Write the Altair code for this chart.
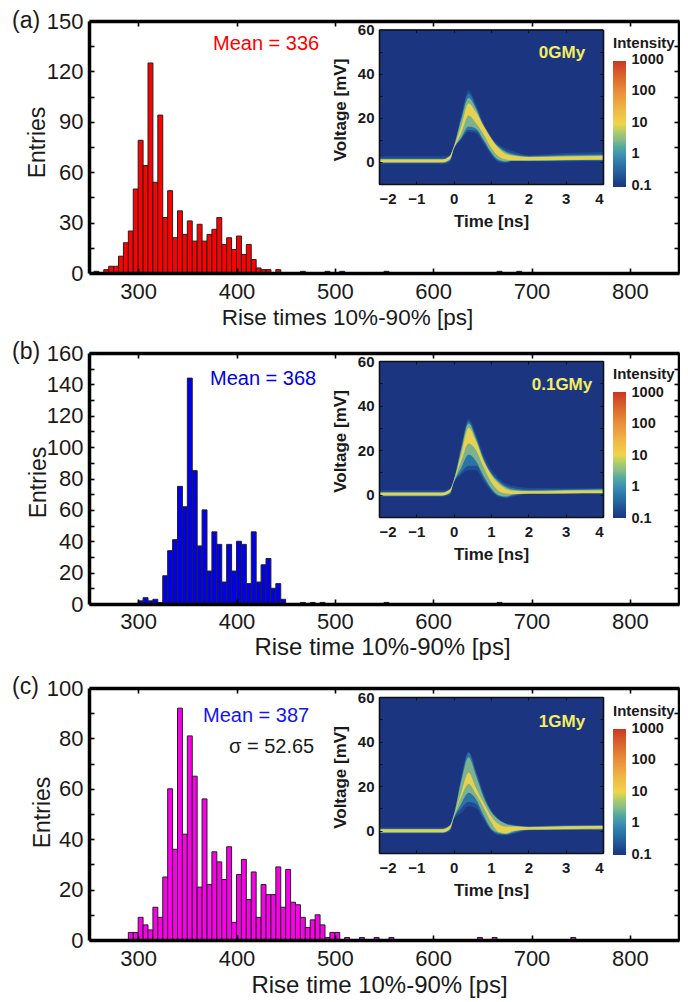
import altair as alt
import pandas as pd

FONT = "Liberation Sans"
INK = "#1a1a1a"

# ---------- histogram data ----------
a_start = 255
a_counts = [1,0,2,4,4,10,18,25,50,79,64,125,54,94,33,49,21,37,23,31,19,29,19,23,26,33,17,21,14,22,11,17,8,3,2,2,0,2]
a_sparse = [465,490,505,550,665,685]
b_start = 300
b_counts = [2,4,2,3,1,18,34,41,75,62,144,85,37,60,21,46,38,14,38,21,40,38,13,46,14,25,29,10,13,3]
b_sparse = [465,475,485,550,665]
c_start = 290
c_counts = [3,3,9,6,4,13,9,25,60,36,92,42,81,65,21,56,22,35,31,24,37,7,26,32,16,27,9,22,18,18,29,13,28,15,14,9,5,8,10,6,1,3,3]
c_sparse = [510,525,540,555,645,660,740]

# ---------- inset waveform envelopes ----------
t = [-2,-1,-0.3,-0.1,0,0.2,0.4,0.6,0.8,1,1.2,1.4,1.6,2,3,4]
a_faint_hi = [2.6,2.6,2.6,3,7,21,32.5,26,17.5,11.5,8,6,4.8,3,4,4.5]
a_faint_lo = [-1,-1,-1,-0.4,5.5,10,13.7,13,8.5,3.2,-0.2,-0.6,0.5,0.2,0.2,0.2]
a_outer_hi = [1.5,1.5,1.5,2.9,6.9,20,31,25,16.5,10.5,7.2,5,3.8,2.7,3.2,3.5]
a_outer_lo = [-0.5,-0.5,-0.5,0.5,5.7,10.5,14.5,14,9.5,4,0.4,0,0.5,0.5,0.6,0.7]
a_mid_hi = [1.2,1.2,1.2,2.8,6.8,19,29,24,16,10,6.8,4.4,3.2,2.4,2.8,3]
a_mid_lo = [-0.3,-0.3,-0.3,1,5.8,11,16,15,10,4.5,1,0.2,0.6,0.6,0.8,0.9]
a_core_hi = [1.1,1.1,1.1,2.7,6.6,16,26.5,22.5,16.5,11,6.3,3.6,2.8,2.2,2.5,2.7]
a_core_lo = [-0.2,-0.2,-0.2,1.3,6,13,21,17.5,12.5,6.5,2.6,1.1,0.7,0.7,0.9,1.1]

b_faint_hi = [2,2,2,2.6,6.5,22,34,27,18,11.5,7.5,5,4,3,2.8,3]
b_faint_lo = [-1,-1,-1,-0.4,5,9,11,11,6,1.5,-1,-1.5,-0.8,0.3,0.4,0.5]
b_outer_hi = [1.2,1.2,1.2,2.5,6.4,21,33,26,16.5,10,6.5,4,3,2.2,2.4,2.6]
b_outer_lo = [-0.5,-0.5,-0.5,0.4,5.3,10,13,13,7.5,2.5,-0.5,-1.2,-0.3,0.4,0.5,0.6]
b_mid_hi = [1,1,1,2.4,6.3,20,32,25,15.8,9.6,5.8,3.3,2.2,1.8,2.1,2.3]
b_mid_lo = [-0.3,-0.3,-0.3,0.8,5.5,12,18,15,8.5,3,-0.2,-0.8,0.1,0.5,0.6,0.7]
b_core_hi = [0.9,0.9,0.9,2.3,6.2,18,30,24,15.2,9,5,2.6,1.8,1.5,1.8,1.9]
b_core_lo = [-0.3,-0.3,-0.3,1.1,5.7,15,23,20,12.5,5.8,1.8,0.5,0.3,0.5,0.7,0.8]

c_faint_hi = [1.4,1.4,1.4,2.6,7,24,35.5,27,17,9.5,5.5,3.5,2.8,2,2.4,2.6]
c_faint_lo = [-1.2,-1.2,-1.2,-0.5,5,8,11,10,5,0,-2,-2.2,-1.5,0.1,0.3,0.4]
c_outer_hi = [1,1,1,2.4,6.9,23,35,26,15.8,9,5.2,3.2,2.5,1.9,2.3,2.5]
c_outer_lo = [-0.9,-0.9,-0.9,0.3,5.3,10,13,12,6,0.5,-1.5,-1.8,-1,0.3,0.5,0.6]
c_mid_hi = [0.8,0.8,0.8,2.3,6.8,22,33,24.5,15,8.5,5,3,2.2,1.7,2.1,2.2]
c_mid_lo = [-0.8,-0.8,-0.8,0.6,5.5,12,17,14,7,1,-1,-1.5,-0.5,0.4,0.6,0.7]
c_core_hi = [0.6,0.6,0.6,2.2,6.5,17,26,19,12.5,6.5,3,1.8,1.9,1.6,1.9,2.1]
c_core_lo = [-0.7,-0.7,-0.7,0.9,5.9,15,21,16.5,10.5,4,-0.5,-1.2,-0.1,0.5,0.8,1]

heat_domain = [0.1,0.3,1,3,10,30,100,1000]
heat_range = ["#1b3581","#27609c","#3f8fb3","#86b98a","#efd44c","#efb647","#e8903c","#cb3527"]
x_ticks = [300,400,500,600,700,800]
legend_vals = [0.1,1,10,100,1000]

W, H = 672, 990
L, R = 81, 671
IL, IR = 371, 595


def hidden(xs, ys, xaxis, yaxis):
    d = pd.DataFrame({"x": [xs.domain[0]], "y": [ys.domain[0]]})
    return alt.Chart(d).mark_point(opacity=0).encode(
        x=alt.X("x:Q", scale=xs, axis=xaxis),
        y=alt.Y("y:Q", scale=ys, axis=yaxis),
    )


def note(txt, px, py, size, color=INK, weight="normal", angle=0, align="center"):
    d = pd.DataFrame({"t": [txt]})
    return alt.Chart(d).mark_text(font=FONT, fontSize=size, color=color, fontWeight=weight,
                                  angle=angle, align=align, baseline="middle").encode(
        x=alt.value(px), y=alt.value(py), text="t:N")


def panel(start, counts, sparse, color, ymax, ylabels, ytickstep, top, bot,
          xtitle, xt_x, xt_dy, xt_size, ent_x, ent_y, xpad):
    xs = alt.Scale(domain=[250, 850], range=[L, R], nice=False, zero=False, padding=0)
    ys = alt.Scale(domain=[0, ymax], range=[bot, top], nice=False, zero=False, padding=0)
    lo = [start + 5 * i for i in range(len(counts)) if counts[i] > 0] + sparse
    n = [c for c in counts if c > 0] + [1] * len(sparse)
    d = pd.DataFrame({"lo": lo, "hi": [v + 5 for v in lo], "n": n, "z": [0] * len(lo)})
    bars = alt.Chart(d).mark_rect(color=color, stroke="#222222", strokeWidth=1).encode(
        x=alt.X("lo:Q", scale=xs, axis=alt.Axis(
            orient="bottom", offset=bot - H, values=x_ticks, tickSize=0, domain=False, grid=False,
            labelFont=FONT, labelFontSize=22, labelColor=INK, labelPadding=xpad,
            title=xtitle, titleFont=FONT, titleFontSize=xt_size, titleFontWeight="normal",
            titleColor=INK, titleX=xt_x, titleY=xt_dy, titleBaseline="middle", titleAlign="center")),
        x2="hi:Q",
        y=alt.Y("n:Q", scale=ys, axis=alt.Axis(
            orient="left", offset=-L, values=ylabels, tickSize=0, domain=False, grid=False,
            labelFont=FONT, labelFontSize=22, labelColor=INK, labelPadding=6,
            title="Entries", titleFont=FONT, titleFontSize=23, titleFontWeight="normal",
            titleColor=INK, titleX=ent_x - L, titleY=ent_y, titleBaseline="middle", titleAlign="center")),
        y2="z:Q",
    )
    yt = list(range(0, ymax + 1, ytickstep))
    fx = dict(domainColor="black", domainWidth=3.5, tickColor="black", tickWidth=1.6, tickSize=5,
              labels=False, title=None, grid=False, zindex=1)
    frame1 = hidden(xs, ys,
                    alt.Axis(orient="top", offset=-bot, values=x_ticks, **fx),
                    alt.Axis(orient="right", offset=L - W, values=yt, **fx))
    frame2 = hidden(xs, ys,
                    alt.Axis(orient="bottom", offset=top - H, values=x_ticks, **fx),
                    alt.Axis(orient="left", offset=-R, values=yt, **fx))
    return [bars, frame1, frame2]


def inset(top, bot, bands, tag, tag_y, leg_y, tt_dy):
    xs = alt.Scale(domain=[-2, 4], range=[IL, IR], nice=False, zero=False, padding=0)
    ys = alt.Scale(domain=[-10, 60], range=[bot, top], nice=False, zero=False, padding=0)
    cs = alt.Scale(type="log", domain=heat_domain, range=heat_range)
    bg = pd.DataFrame({"x": [-2], "x2": [4], "y": [-10], "y2": [60], "i": [0.1]})
    bglayer = alt.Chart(bg).mark_rect().encode(
        x=alt.X("x:Q", scale=xs, axis=alt.Axis(
            orient="bottom", offset=bot - H, values=[-2,-1,0,1,2,3,4], tickSize=0, domain=False, grid=False,
            labelFont=FONT, labelFontSize=15, labelFontWeight="bold", labelColor=INK, labelPadding=7,
            format="d", title="Time [ns]", titleFont=FONT, titleFontSize=17, titleFontWeight="bold",
            titleColor=INK, titleX=483, titleY=tt_dy, titleBaseline="middle", titleAlign="center")),
        x2="x2:Q",
        y=alt.Y("y:Q", scale=ys, axis=alt.Axis(
            orient="left", offset=-IL, values=[0,20,40,60], tickSize=0, domain=False, grid=False,
            labelFont=FONT, labelFontSize=15, labelFontWeight="bold", labelColor=INK, labelPadding=5,
            title="Voltage [mV]", titleFont=FONT, titleFontSize=17, titleFontWeight="bold",
            titleColor=INK, titleX=-39, titleY=top + 80, titleBaseline="middle", titleAlign="center")),
        y2="y2:Q",
        color=alt.Color("i:Q", scale=cs, legend=alt.Legend(
            orient="none", legendX=605, legendY=leg_y, title="Intensity", type="gradient",
            direction="vertical", gradientLength=126, gradientThickness=13, values=legend_vals,
            labelOpacity=0, labelFontSize=1, titleFont=FONT, titleFontSize=15,
            titleFontWeight="bold", titleColor=INK, titlePadding=10)),
    )
    layers = [bglayer]
    for (hi, lo), i, op in zip(bands, [0.2, 0.55, 3, 10], [0.9, 0.9, 0.9, 0.92]):
        d = pd.DataFrame({"t": t, "hi": hi, "lo": lo, "i": [i] * len(t)})
        layers.append(alt.Chart(d).mark_area(interpolate="monotone", orient="vertical", opacity=op).encode(
            x=alt.X("t:Q", scale=xs, axis=None),
            y=alt.Y("hi:Q", scale=ys, axis=None),
            y2="lo:Q",
            color=alt.Color("i:Q", scale=cs, legend=None),
        ))
    fx = dict(domainColor="#111111", domainWidth=1.6, tickColor="#111111", tickWidth=1, tickSize=3,
              labels=False, title=None, grid=False, zindex=1)
    layers.append(hidden(xs, ys,
                         alt.Axis(orient="top", offset=-bot, values=[-2,-1,0,1,2,3,4], **fx),
                         alt.Axis(orient="right", offset=IL - W, values=[-10,0,10,20,30,40,50,60], **fx)))
    layers.append(hidden(xs, ys,
                         alt.Axis(orient="bottom", offset=top - H, values=[-2,-1,0,1,2,3,4], **fx),
                         alt.Axis(orient="left", offset=-IR, values=[-10,0,10,20,30,40,50,60], **fx)))
    # colour-bar labels, centred on the ends of the bar like the original
    bar_scale = alt.Scale(type="log", domain=[0.1, 1000], range=[bot + 1, bot - 125], nice=False, padding=0)
    bd = pd.DataFrame({"x": [-2], "y": [0.1]})
    layers.append(alt.Chart(bd).mark_point(opacity=0).encode(
        x=alt.X("x:Q", scale=xs, axis=None),
        y=alt.Y("y:Q", scale=bar_scale, axis=alt.Axis(
            orient="right", offset=618 - W, values=legend_vals, tickSize=0, domain=False, grid=False,
            format=".1~f", labelFont=FONT, labelFontSize=14.5, labelFontWeight="bold", labelColor=INK,
            labelPadding=5, title=None, labelOverlap=False)),
    ))
    layers.append(note(tag, 554, tag_y, 17, color="#f6ee5c", weight="bold"))
    return layers


layers = []
layers += panel(a_start, a_counts, a_sparse, "#ff0000", 150, [0,30,60,90,120,150], 15, 13, 265,
                "Rise times 10%-90% [ps]", 339, 44, 22.5, 29, 134, 8)
layers += inset(21.5, 176, [(a_faint_hi, a_faint_lo), (a_outer_hi, a_outer_lo), (a_mid_hi, a_mid_lo), (a_core_hi, a_core_lo)],
                "0GMy", 45, 28, 37)
layers += [note("(a)", 4, 13, 23, align="left"),
           note("Mean = 336", 205, 36, 20, color="#ff0000", align="left")]

layers += panel(b_start, b_counts, b_sparse, "#0000ee", 160, [0,20,40,60,80,100,120,140,160], 10, 345, 596,
                "Rise time 10%-90% [ps]", 374, 43, 24, 30, 474, 7)
layers += inset(353, 509, [(b_faint_hi, b_faint_lo), (b_outer_hi, b_outer_lo), (b_mid_hi, b_mid_lo), (b_core_hi, b_core_lo)],
                "0.1GMy", 377, 359, 37)
layers += [note("(b)", 4, 344, 23, align="left"),
           note("Mean = 368", 202, 371, 20, color="#0000ee", align="left")]

layers += panel(c_start, c_counts, c_sparse, "#fa00e8", 100, [0,20,40,60,80,100], 10, 680, 932,
                "Rise time 10%-90% [ps]", 371, 45, 24, 34, 804, 8)
layers += inset(689, 845, [(c_faint_hi, c_faint_lo), (c_outer_hi, c_outer_lo), (c_mid_hi, c_mid_lo), (c_core_hi, c_core_lo)],
                "1GMy", 714, 696, 37)
layers += [note("(c)", 4, 679, 23, align="left"),
           note("Mean = 387", 195, 708, 20, color="#1414ee", align="left"),
           note("σ = 52.65", 221, 739, 20, align="left")]

chart = alt.layer(*layers).resolve_scale(
    x="independent", y="independent", color="independent"
).resolve_axis(x="independent", y="independent").resolve_legend(color="independent").properties(
    width=W, height=H, padding=0, autosize=alt.AutoSizeParams(type="none"), background="white"
).configure_view(stroke=None)

chart.save("out.html", embed_options={"renderer": "svg", "actions": False})
